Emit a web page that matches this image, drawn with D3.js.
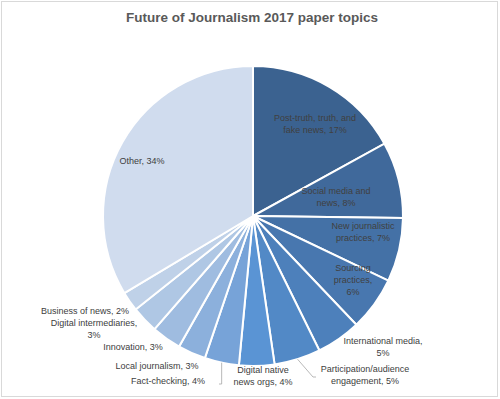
<!DOCTYPE html>
<html>
<head>
<meta charset="utf-8">
<script src="https://cdn.jsdelivr.net/npm/d3@7"></script>
<style>
  body { margin: 0; background: #fff; }
  svg text { font-family: "Liberation Sans", Arial, sans-serif; }
</style>
</head>
<body>
<svg id="chart" width="500" height="399"></svg>
<script>
// topics clockwise from 12 o'clock
const topics = ["Post-truth, truth, and fake news", "Social media and news", "New journalistic practices",
  "Sourcing practices", "International media", "Participation/audience engagement", "Digital native news orgs",
  "Fact-checking", "Local journalism", "Innovation", "Digital intermediaries", "Business of news", "Other"]
const shares = [17.0, 8.2, 6.9, 5.8, 4.8, 5.0, 3.8, 3.7, 3.0, 3.2, 2.9, 2.1, 33.6]
const labelPct = ["17%", "8%", "7%", "6%", "5%", "5%", "4%", "4%", "3%", "3%", "3%", "2%", "34%"]
const colors = ["#3b6290", "#40699b", "#4471a6", "#4877af", "#4d80bb", "#5289c6", "#5a94d4",
  "#77a3d8", "#8cb0dc", "#9fbce0", "#afc7e4", "#bfd1e8", "#d0dcee"]

// label lines, positions per slice (dx,dy from centre)
const labelLines = [
  ["Post-truth, truth, and", "fake news, 17%"],
  ["Social media and", "news, 8%"],
  ["New journalistic", "practices, 7%"],
  ["Sourcing", "practices,", "6%"],
  ["International media,", "5%"],
  ["Participation/audience", "engagement, 5%"],
  ["Digital native", "news orgs, 4%"],
  ["Fact-checking, 4%"],
  ["Local journalism, 3%"],
  ["Innovation, 3%"],
  ["Digital intermediaries,", "3%"],
  ["Business of news, 2%"],
  ["Other, 34%"]
]
const labelPos = [[62, -92], [83, -19], [110, 16], [100, 64], [130, 131], [112, 159], [10, 160],
  [-85, 165], [-96, 150], [-120, 131], [-159, 113], [-168, 95], [-111, -55]]

const cx = 253, cy = 216, radius = 150
const svg = d3.select("#chart")

svg.append("rect")
  .attr("x", 1.5).attr("y", 1.5).attr("width", 496).attr("height", 395)
  .attr("fill", "none").attr("stroke", "#d9d9d9").attr("stroke-width", 1)

svg.append("text")
  .attr("x", 252).attr("y", 22)
  .attr("text-anchor", "middle")
  .attr("font-size", 13.5).attr("font-weight", "bold")
  .attr("fill", "#595959")
  .text("Future of Journalism 2017 paper topics")

const pie = d3.pie().sort(null).value(d => d)
const arcs = pie(shares)
const arc = d3.arc().innerRadius(0).outerRadius(radius)

const g = svg.append("g").attr("transform", "translate(" + cx + "," + cy + ")")

g.selectAll("path.slice")
  .data(arcs)
  .join("path")
  .attr("class", "slice")
  .attr("d", arc)
  .attr("fill", (d, i) => colors[i])
  .attr("stroke", "#fff")
  .attr("stroke-width", 2)

// leader lines for the two labels pulled away from their slices
const edge = d3.arc().innerRadius(radius).outerRadius(radius)
const leaders = [
  { i: 5, pts: (p) => [p, [60, 161], [63, 161]] },
  { i: 7, pts: (p) => [p, [p[0], 168], [-34, 168]] }
]
for (let l of leaders) {
  let p = edge.centroid(arcs[l.i])
  g.append("path")
    .attr("d", d3.line()(l.pts(p)))
    .attr("fill", "none")
    .attr("stroke", "#a6a6a6")
    .attr("stroke-width", 0.8)
}

const lineH = 12
labelLines.forEach((lines, i) => {
  let t = g.append("text")
    .attr("text-anchor", "middle")
    .attr("font-size", 9)
    .attr("fill", "#404040")
  let x0 = labelPos[i][0], y0 = labelPos[i][1] - (lines.length - 1) * lineH / 2
  lines.forEach((s, k) => {
    t.append("tspan").attr("x", x0).attr("y", y0 + k * lineH + 3).text(s)
  })
})
</script>
</body>
</html>
